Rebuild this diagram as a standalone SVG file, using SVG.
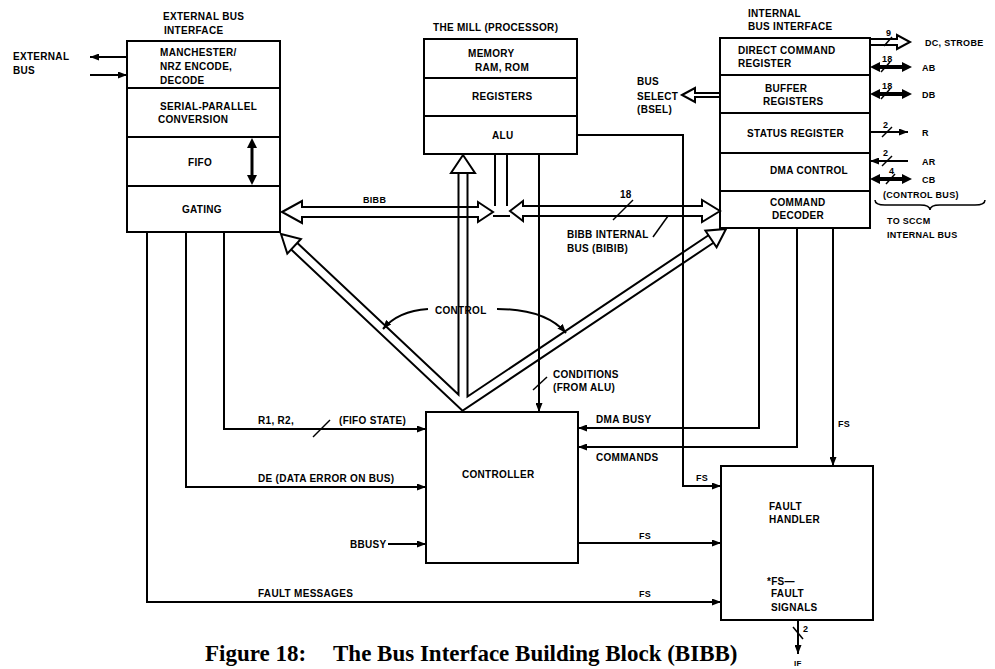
<svg xmlns="http://www.w3.org/2000/svg" width="995" height="669" viewBox="0 0 995 669">
<style>
.t{font-family:"Liberation Sans",Arial,sans-serif;font-size:10px;font-weight:bold;letter-spacing:0.3px;fill:#000}
.s{font-size:9px}
.box{fill:#fff;stroke:#000;stroke-width:2}
.ln{fill:none;stroke:#000;stroke-width:2}
.hol{fill:#fff;stroke:#000;stroke-width:2;stroke-linejoin:miter}
.bus{fill:none;stroke:#000;stroke-width:2;stroke-linejoin:miter}
.sh{fill:none;stroke:#000;stroke-width:11;stroke-linejoin:miter}
.shw{fill:none;stroke:#fff;stroke-width:7;stroke-linejoin:miter}
.cap{font-family:"Liberation Serif","Times New Roman",serif;font-size:23px;font-weight:bold;fill:#000}
</style>
<defs>
<marker id="ah" markerUnits="userSpaceOnUse" markerWidth="9" markerHeight="7" refX="9" refY="3.5" orient="auto"><path d="M0,0 L9,3.5 L0,7 z" fill="#000"/></marker>
</defs>

<g id="ext-bus-interface">
<rect class="box" x="127" y="41" width="153" height="191"/>
<path class="ln" d="M127,88 H280 M127,137 H280 M127,186 H280"/>
<text class="t" x="163" y="20">EXTERNAL BUS</text>
<text class="t" x="164" y="34">INTERFACE</text>
<text class="t" x="160" y="56">MANCHESTER/</text>
<text class="t" x="160" y="70">NRZ ENCODE,</text>
<text class="t" x="160" y="84">DECODE</text>
<text class="t" x="160" y="110">SERIAL-PARALLEL</text>
<text class="t" x="158" y="123">CONVERSION</text>
<text class="t" x="188" y="166">FIFO</text>
<text class="t" x="182" y="213">GATING</text>
<path class="ln" d="M252,146 V177" style="stroke-width:3"/>
<polygon points="252,138 247,148 257,148" fill="#000"/>
<polygon points="252,185 247,175 257,175" fill="#000"/>
</g>

<g id="mill">
<text class="t" x="433" y="31">THE MILL (PROCESSOR)</text>
<rect class="box" x="424" y="39" width="153" height="115"/>
<path class="ln" d="M424,78 H577 M424,116 H577"/>
<text class="t" x="468" y="57">MEMORY</text>
<text class="t" x="475" y="71">RAM, ROM</text>
<text class="t" x="472" y="100">REGISTERS</text>
<text class="t" x="492" y="139">ALU</text>
</g>

<g id="internal-bus-interface">
<text class="t" x="748" y="17">INTERNAL</text>
<text class="t" x="748" y="30">BUS INTERFACE</text>
<rect class="box" x="720" y="38" width="150" height="190"/>
<path class="ln" d="M720,75 H870 M720,113 H870 M720,153 H870 M720,191 H870"/>
<text class="t" x="738" y="54">DIRECT COMMAND</text>
<text class="t" x="738" y="67">REGISTER</text>
<text class="t" x="765" y="92">BUFFER</text>
<text class="t" x="763" y="105">REGISTERS</text>
<text class="t" x="747" y="137">STATUS REGISTER</text>
<text class="t" x="770" y="174">DMA CONTROL</text>
<text class="t" x="770" y="206">COMMAND</text>
<text class="t" x="772" y="219">DECODER</text>
</g>

<g id="controller">
<rect class="box" x="426" y="412" width="152" height="151"/>
<text class="t" x="462" y="478">CONTROLLER</text>
</g>

<g id="fault-handler">
<rect class="box" x="721" y="466" width="152" height="154"/>
<text class="t" x="769" y="510">FAULT</text>
<text class="t" x="769" y="523">HANDLER</text>
<text class="t" x="767" y="585">*FS—</text>
<text class="t" x="771" y="597">FAULT</text>
<text class="t" x="771" y="611">SIGNALS</text>
</g>

<g id="connectors">
<path class="sh" d="M294,246 L463,405 L711,239 M463,172 L463,405"/>
<path class="shw" d="M294,246 L463,405 L711,239 M463,172 L463,405"/>
<polygon class="hol" points="463,155 475,173 451,173"/>
<polygon class="hol" points="281,234 300.9,239 287.3,253.6"/>
<polygon class="hol" points="726,229 716.6,247.3 705.4,230.7"/>
<path class="ln" d="M428,309 Q398,311 383,329" marker-end="url(#ah)"/>
<path class="ln" d="M497,309 Q545,309 566,333" marker-end="url(#ah)"/>
<text class="t" x="435" y="314">CONTROL</text>

<polygon class="bus" points="282,212 302,201 302,207 478,207 478,202 493,212 478,222 478,217 302,217 302,223"/>
<text class="t s" x="363" y="203">BIBB</text>
<path class="ln" d="M495,154 V206 M507,154 V206 M493,216 H510"/>
<polygon class="bus" points="510,211 523,201 523,206 702,206 702,200 720,211 702,222 702,216 523,216 523,221"/>
<text class="t" x="620" y="198">18</text>
<path class="ln" d="M613,220 L633,200" style="stroke-width:1.5"/>
<path class="ln" d="M653,237 L668,216" style="stroke-width:1.5"/>
<text class="t" x="567" y="238">BIBB INTERNAL</text>
<text class="t" x="567" y="252">BUS (BIBIB)</text>

<path class="ln" d="M127,57 H90" marker-end="url(#ah)"/>
<path class="ln" d="M90,75 H127" marker-end="url(#ah)"/>
<text class="t" x="13" y="60">EXTERNAL</text>
<text class="t" x="13" y="74">BUS</text>

<polygon class="hol" points="682,95 695,88 695,93 720,93 720,97 695,97 695,102"/>
<text class="t" x="637" y="85">BUS</text>
<text class="t" x="637" y="100">SELECT</text>
<text class="t" x="637" y="113">(BSEL)</text>

<polygon class="hol" points="870,39 897,39 897,35 910,42 897,49 897,45 870,45"/>
<text class="t" x="886" y="36" style="font-size:9px">9</text>
<path class="ln" d="M884,46 L892,37" style="stroke-width:1.5"/>
<text class="t s" x="925" y="46">DC, STROBE</text>

<path class="ln" d="M876,67 H905" style="stroke-width:4"/>
<polygon points="870,67 880,62 880,72" fill="#000"/>
<polygon points="912,67 902,62 902,72" fill="#000"/>
<text class="t s" x="882" y="62">18</text>
<path class="ln" d="M881,72 L890,62" style="stroke-width:1.5"/>
<text class="t s" x="922" y="71">AB</text>

<path class="ln" d="M876,94 H905" style="stroke-width:4"/>
<polygon points="870,94 880,89 880,99" fill="#000"/>
<polygon points="912,94 902,89 902,99" fill="#000"/>
<text class="t s" x="882" y="89">18</text>
<path class="ln" d="M881,99 L890,89" style="stroke-width:1.5"/>
<text class="t s" x="922" y="98">DB</text>

<path class="ln" d="M870,132 H908" marker-end="url(#ah)"/>
<text class="t s" x="883" y="128">2</text>
<path class="ln" d="M882,137 L892,127" style="stroke-width:1.5"/>
<text class="t s" x="922" y="136">R</text>

<path class="ln" d="M908,161 H870" marker-end="url(#ah)"/>
<text class="t s" x="883" y="156">2</text>
<path class="ln" d="M882,166 L892,156" style="stroke-width:1.5"/>
<text class="t s" x="922" y="165">AR</text>

<path class="ln" d="M876,179 H905" style="stroke-width:4"/>
<polygon points="870,179 880,174 880,184" fill="#000"/>
<polygon points="912,179 902,174 902,184" fill="#000"/>
<text class="t s" x="889" y="174">4</text>
<path class="ln" d="M886,184 L895,174" style="stroke-width:1.5"/>
<text class="t s" x="922" y="183">CB</text>
<text class="t s" x="883" y="198">(CONTROL BUS)</text>
<path class="ln" d="M875,200 Q875,205 885,205 L920,205 Q930,205 930,210 Q930,205 940,205 L975,205 Q985,205 985,200" style="stroke-width:1.5"/>
<text class="t s" x="887" y="224">TO SCCM</text>
<text class="t s" x="887" y="238">INTERNAL BUS</text>

<path class="ln" d="M539,154 V412" marker-end="url(#ah)"/>
<path class="ln" d="M533,390 L547,377" style="stroke-width:1.5"/>
<text class="t" x="553" y="378">CONDITIONS</text>
<text class="t" x="553" y="391">(FROM ALU)</text>

<path class="ln" d="M577,135 H683 V486 H721" marker-end="url(#ah)"/>
<text class="t s" x="696" y="481">FS</text>

<path class="ln" d="M759,228 V428 H578" marker-end="url(#ah)"/>
<text class="t" x="596" y="423">DMA BUSY</text>
<path class="ln" d="M797,228 V447 H578" marker-end="url(#ah)"/>
<text class="t" x="596" y="461">COMMANDS</text>
<path class="ln" d="M833,228 V466" marker-end="url(#ah)"/>
<text class="t s" x="838" y="427">FS</text>

<path class="ln" d="M224,232 V429 H426" marker-end="url(#ah)"/>
<path class="ln" d="M313,437 L330,420" style="stroke-width:1.5"/>
<text class="t" x="258" y="424">R1, R2,</text>
<text class="t" x="339" y="424">(FIFO STATE)</text>
<path class="ln" d="M186,232 V487 H426" marker-end="url(#ah)"/>
<text class="t" x="258" y="482">DE (DATA ERROR ON BUS)</text>
<path class="ln" d="M147,232 V602 H721" marker-end="url(#ah)"/>
<text class="t" x="258" y="597">FAULT MESSAGES</text>
<text class="t s" x="639" y="597">FS</text>
<path class="ln" d="M388,544 H426" marker-end="url(#ah)"/>
<text class="t" x="350" y="548">BBUSY</text>
<path class="ln" d="M578,543 H721" marker-end="url(#ah)"/>
<text class="t s" x="639" y="539">FS</text>

<path class="ln" d="M798,620 V654" marker-end="url(#ah)"/>
<path class="ln" d="M793,627 L803,639" style="stroke-width:1.5"/>
<text class="t s" x="803" y="632">2</text>
<text class="t" x="794" y="666" style="font-size:8px">IF</text>
</g>

<text class="cap" x="205" y="661">Figure 18:</text>
<text class="cap" x="333" y="661">The Bus Interface Building Block (BIBB)</text>
</svg>
